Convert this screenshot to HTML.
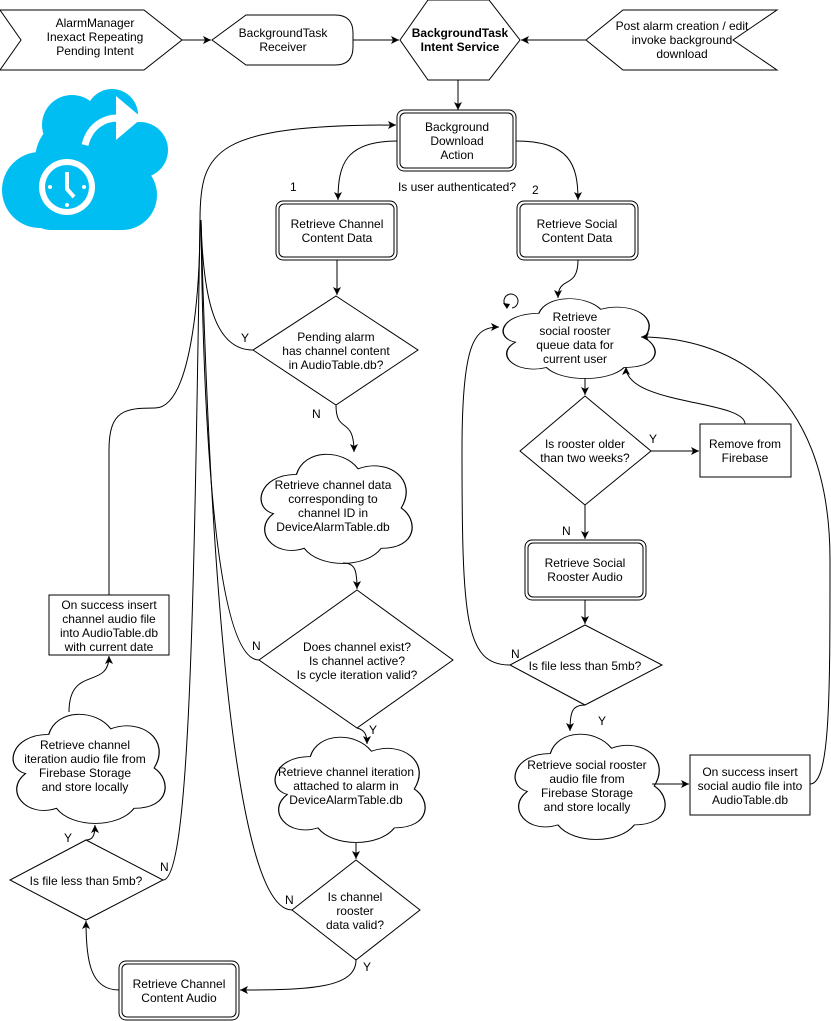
<!DOCTYPE html>
<html><head><meta charset="utf-8"><style>
html,body{margin:0;padding:0;background:#fff}
svg{display:block}
text{font-family:"Liberation Sans",Arial,sans-serif;font-size:12px;fill:#000}
.s{fill:#fff;stroke:#000;stroke-width:1}
.l{fill:none;stroke:#000;stroke-width:1}
</style></head><body>
<svg width="831" height="1021" viewBox="0 0 831 1021" xmlns="http://www.w3.org/2000/svg">
<defs>
<marker id="a" markerWidth="10" markerHeight="10" refX="8" refY="5" orient="auto" markerUnits="userSpaceOnUse">
<path d="M0,1 L8,5 L0,9 L2,5 Z" fill="#000"/></marker>
<path id="cl" d="M0.25,0.2 C0.0,0.2 -0.04,0.5 0.1,0.55 C-0.04,0.7 0.1,0.95 0.3,0.86 C0.4,1.04 0.7,1.04 0.8,0.86 C1.04,0.86 1.04,0.6 0.93,0.5 C1.04,0.25 0.85,0.05 0.65,0.15 C0.55,-0.03 0.3,-0.03 0.25,0.2 Z"/>
</defs>

<!-- cloud icon -->
<g fill="#00BEF2">
<circle cx="72" cy="125" r="30"/><circle cx="112" cy="115" r="26"/><circle cx="140" cy="150" r="28"/>
<rect x="50" y="130" width="100" height="45"/>
<circle cx="40" cy="190" r="38"/><circle cx="80" cy="160" r="45"/><circle cx="122" cy="195" r="35"/>
<rect x="30" y="180" width="110" height="50" rx="20"/>
</g>
<path d="M85,145 C90,125 105,118 118,118" fill="none" stroke="#fff" stroke-width="7"/>
<path d="M116,96 L142,118 L116,140 Z" fill="#fff"/>
<circle cx="67" cy="187" r="28" fill="#fff"/>
<circle cx="67" cy="187" r="22" fill="#00BEF2"/>
<path d="M67,172 L67,189 L74,197" fill="none" stroke="#fff" stroke-width="4"/>
<circle cx="50" cy="187" r="2" fill="#fff"/><circle cx="84" cy="187" r="2" fill="#fff"/><circle cx="67" cy="205" r="2" fill="#fff"/>

<!-- top row -->
<path class="s" d="M0,10 L144,10 L182,40 L144,70 L0,70 L21,40 Z"/>
<text text-anchor="middle" x="95" y="27">AlarmManager</text>
<text text-anchor="middle" x="95" y="41">Inexact Repeating</text>
<text text-anchor="middle" x="95" y="55">Pending Intent</text>
<path class="l" d="M182,40 L211,40" marker-end="url(#a)"/>
<path class="s" d="M212,40 L246,15 L335,15 Q353,15 353,33 L353,47 Q353,65 335,65 L246,65 Z"/>
<text text-anchor="middle" x="283" y="37">BackgroundTask</text>
<text text-anchor="middle" x="283" y="51">Receiver</text>
<path class="l" d="M353,40 L399,40" marker-end="url(#a)"/>
<path class="s" d="M400,40 L428,0 L489,0 L520,40 L489,80 L428,80 Z"/>
<text text-anchor="middle" x="460" y="37" font-weight="bold">BackgroundTask</text>
<text text-anchor="middle" x="460" y="51" font-weight="bold">Intent Service</text>
<path class="s" d="M586,40 L623,10 L777,10 L733,40 L777,70 L623,70 Z"/>
<text text-anchor="middle" x="682" y="30">Post alarm creation / edit</text>
<text text-anchor="middle" x="682" y="44">invoke background</text>
<text text-anchor="middle" x="682" y="58">download</text>
<path class="l" d="M586,40 L521,40" marker-end="url(#a)"/>
<path class="l" d="M458,80 L458,110" marker-end="url(#a)"/>

<!-- BDA -->
<rect class="s" x="397" y="110" width="119" height="61" rx="7"/>
<rect class="s" x="400" y="113" width="113" height="55" rx="5"/>
<text text-anchor="middle" x="457" y="131">Background</text>
<text text-anchor="middle" x="457" y="145">Download</text>
<text text-anchor="middle" x="457" y="159">Action</text>
<path class="l" d="M397,141 C345,141 338,165 338,200" marker-end="url(#a)"/>
<path class="l" d="M516,141 C570,141 578,165 578,200" marker-end="url(#a)"/>
<text x="290" y="191">1</text>
<text text-anchor="middle" x="457" y="191">Is user authenticated?</text>
<text x="532" y="194">2</text>

<rect class="s" x="276" y="201" width="121" height="59" rx="7"/>
<rect class="s" x="279" y="204" width="115" height="53" rx="5"/>
<text text-anchor="middle" x="337" y="228">Retrieve Channel</text>
<text text-anchor="middle" x="337" y="242">Content Data</text>
<rect class="s" x="517" y="201" width="121" height="59" rx="7"/>
<rect class="s" x="520" y="204" width="115" height="53" rx="5"/>
<text text-anchor="middle" x="577" y="228">Retrieve Social</text>
<text text-anchor="middle" x="577" y="242">Content Data</text>

<!-- left long lines -->
<path class="l" d="M200,220 C200,150 215,125 396,125" marker-end="url(#a)"/>
<path class="l" d="M253,350 C215,350 203,300 201,220"/>
<path class="l" d="M109,595 L109,450 C109,410 125,408 155,408 C190,408 200,300 200,220"/>
<path class="l" d="M259,660 C215,660 203,420 201,220"/>
<path class="l" d="M292,910 C225,910 207,450 201,220"/>
<path class="l" d="M163,880 C190,880 194,600 200,220"/>

<!-- channel flow -->
<path class="l" d="M337,260 L337,295" marker-end="url(#a)"/>
<path class="s" d="M336,296 L418,350 L336,405 L253,350 Z"/>
<text text-anchor="middle" x="336" y="341">Pending alarm</text>
<text text-anchor="middle" x="336" y="355">has channel content</text>
<text text-anchor="middle" x="336" y="369">in AudioTable.db?</text>
<text x="241" y="342">Y</text>
<text x="312" y="418">N</text>
<path class="l" d="M336,405 C336,435 354,415 354,452" marker-end="url(#a)"/>
<use href="#cl" class="s" transform="translate(258,452) scale(154,112)" style="stroke-width:0.008"/>
<text text-anchor="middle" x="333" y="489">Retrieve channel data</text>
<text text-anchor="middle" x="333" y="503">corresponding to</text>
<text text-anchor="middle" x="333" y="517">channel ID in</text>
<text text-anchor="middle" x="333" y="531">DeviceAlarmTable.db</text>
<path class="l" d="M343,563 C355,563 357,570 357,589" marker-end="url(#a)"/>
<path class="s" d="M357,590 L453,660 L357,728 L259,660 Z"/>
<text text-anchor="middle" x="357" y="651">Does channel exist?</text>
<text text-anchor="middle" x="357" y="665">Is channel active?</text>
<text text-anchor="middle" x="357" y="679">Is cycle iteration valid?</text>
<text x="252" y="650">N</text>
<text x="369" y="734">Y</text>
<path class="l" d="M357,728 C365,730 367,735 367,744" marker-end="url(#a)"/>
<use href="#cl" class="s" transform="translate(272,735) scale(153,108)" style="stroke-width:0.008"/>
<text text-anchor="middle" x="346" y="776">Retrieve channel iteration</text>
<text text-anchor="middle" x="346" y="790">attached to alarm in</text>
<text text-anchor="middle" x="346" y="804">DeviceAlarmTable.db</text>
<path class="l" d="M356,843 L356,859" marker-end="url(#a)"/>
<path class="s" d="M356,860 L420,910 L356,960 L292,910 Z"/>
<text text-anchor="middle" x="355" y="901">Is channel</text>
<text text-anchor="middle" x="355" y="915">rooster</text>
<text text-anchor="middle" x="355" y="929">data valid?</text>
<text x="285" y="904">N</text>
<text x="363" y="971">Y</text>
<path class="l" d="M356,960 C356,988 310,990 240,990" marker-end="url(#a)"/>
<rect class="s" x="119" y="961" width="120" height="59" rx="7"/>
<rect class="s" x="122" y="964" width="114" height="53" rx="5"/>
<text text-anchor="middle" x="179" y="988">Retrieve Channel</text>
<text text-anchor="middle" x="179" y="1002">Content Audio</text>
<path class="l" d="M119,990 C90,990 86,960 86,921" marker-end="url(#a)"/>
<path class="s" d="M86,840 L163,880 L86,920 L10,880 Z"/>
<text text-anchor="middle" x="86" y="885">Is file less than 5mb?</text>
<text x="64" y="842">Y</text>
<text x="160" y="871">N</text>
<path class="l" d="M86,840 C93,840 95,835 95,825" marker-end="url(#a)"/>
<use href="#cl" class="s" transform="translate(10,712) scale(155,112)" style="stroke-width:0.008"/>
<text text-anchor="middle" x="85" y="749">Retrieve channel</text>
<text text-anchor="middle" x="85" y="763">iteration audio file from</text>
<text text-anchor="middle" x="85" y="777">Firebase Storage</text>
<text text-anchor="middle" x="85" y="791">and store locally</text>
<path class="l" d="M69,712 C69,665 109,690 109,656" marker-end="url(#a)"/>
<rect class="s" x="49" y="595" width="120" height="60"/>
<text text-anchor="middle" x="109" y="609">On success insert</text>
<text text-anchor="middle" x="109" y="623">channel audio file</text>
<text text-anchor="middle" x="109" y="637">into AudioTable.db</text>
<text text-anchor="middle" x="109" y="651">with current date</text>

<!-- social flow -->
<path class="l" d="M578,260 C578,290 558,275 558,298" marker-end="url(#a)"/>
<path class="l" d="M506,306 A7,7 0 1 1 512,308"/>
<path d="M503,303 L507,309 L510,304 Z" fill="#000"/>
<use href="#cl" class="s" transform="translate(500,297) scale(155,82)" style="stroke-width:0.009"/>
<text text-anchor="middle" x="575" y="321">Retrieve</text>
<text text-anchor="middle" x="575" y="335">social rooster</text>
<text text-anchor="middle" x="575" y="349">queue data for</text>
<text text-anchor="middle" x="575" y="363">current user</text>
<path class="l" d="M585,378 L585,395" marker-end="url(#a)"/>
<path class="s" d="M585,396 L651,451 L585,505 L520,451 Z"/>
<text text-anchor="middle" x="585" y="448">Is rooster older</text>
<text text-anchor="middle" x="585" y="462">than two weeks?</text>
<text x="649" y="443">Y</text>
<path class="l" d="M651,451 L699,451" marker-end="url(#a)"/>
<rect class="s" x="700" y="424" width="91" height="53"/>
<text text-anchor="middle" x="745" y="448">Remove from</text>
<text text-anchor="middle" x="745" y="462">Firebase</text>
<path class="l" d="M745,424 C745,400 626,405 626,367" marker-end="url(#a)"/>
<text x="562" y="535">N</text>
<path class="l" d="M585,505 L585,539" marker-end="url(#a)"/>
<rect class="s" x="525" y="540" width="121" height="60" rx="7"/>
<rect class="s" x="528" y="543" width="115" height="54" rx="5"/>
<text text-anchor="middle" x="585" y="567">Retrieve Social</text>
<text text-anchor="middle" x="585" y="581">Rooster Audio</text>
<path class="l" d="M585,600 L585,624" marker-end="url(#a)"/>
<path class="s" d="M585,625 L662,665 L585,705 L510,665 Z"/>
<text text-anchor="middle" x="585" y="670">Is file less than 5mb?</text>
<text x="511" y="658">N</text>
<text x="598" y="725">Y</text>
<path class="l" d="M510,665 C465,665 462,620 462,450 C462,340 475,327 499,327" marker-end="url(#a)"/>
<path class="l" d="M585,705 C572,705 570,712 570,731" marker-end="url(#a)"/>
<use href="#cl" class="s" transform="translate(512,732) scale(153,108)" style="stroke-width:0.008"/>
<text text-anchor="middle" x="587" y="769">Retrieve social rooster</text>
<text text-anchor="middle" x="587" y="783">audio file from</text>
<text text-anchor="middle" x="587" y="797">Firebase Storage</text>
<text text-anchor="middle" x="587" y="811">and store locally</text>
<path class="l" d="M652,784 L689,784" marker-end="url(#a)"/>
<rect class="s" x="690" y="755" width="120" height="60"/>
<text text-anchor="middle" x="750" y="776">On success insert</text>
<text text-anchor="middle" x="750" y="790">social audio file into</text>
<text text-anchor="middle" x="750" y="804">AudioTable.db</text>
<path class="l" d="M810,784 C830,784 830,700 830,560 C830,380 720,337 641,337" marker-end="url(#a)"/>
</svg>
</body></html>
